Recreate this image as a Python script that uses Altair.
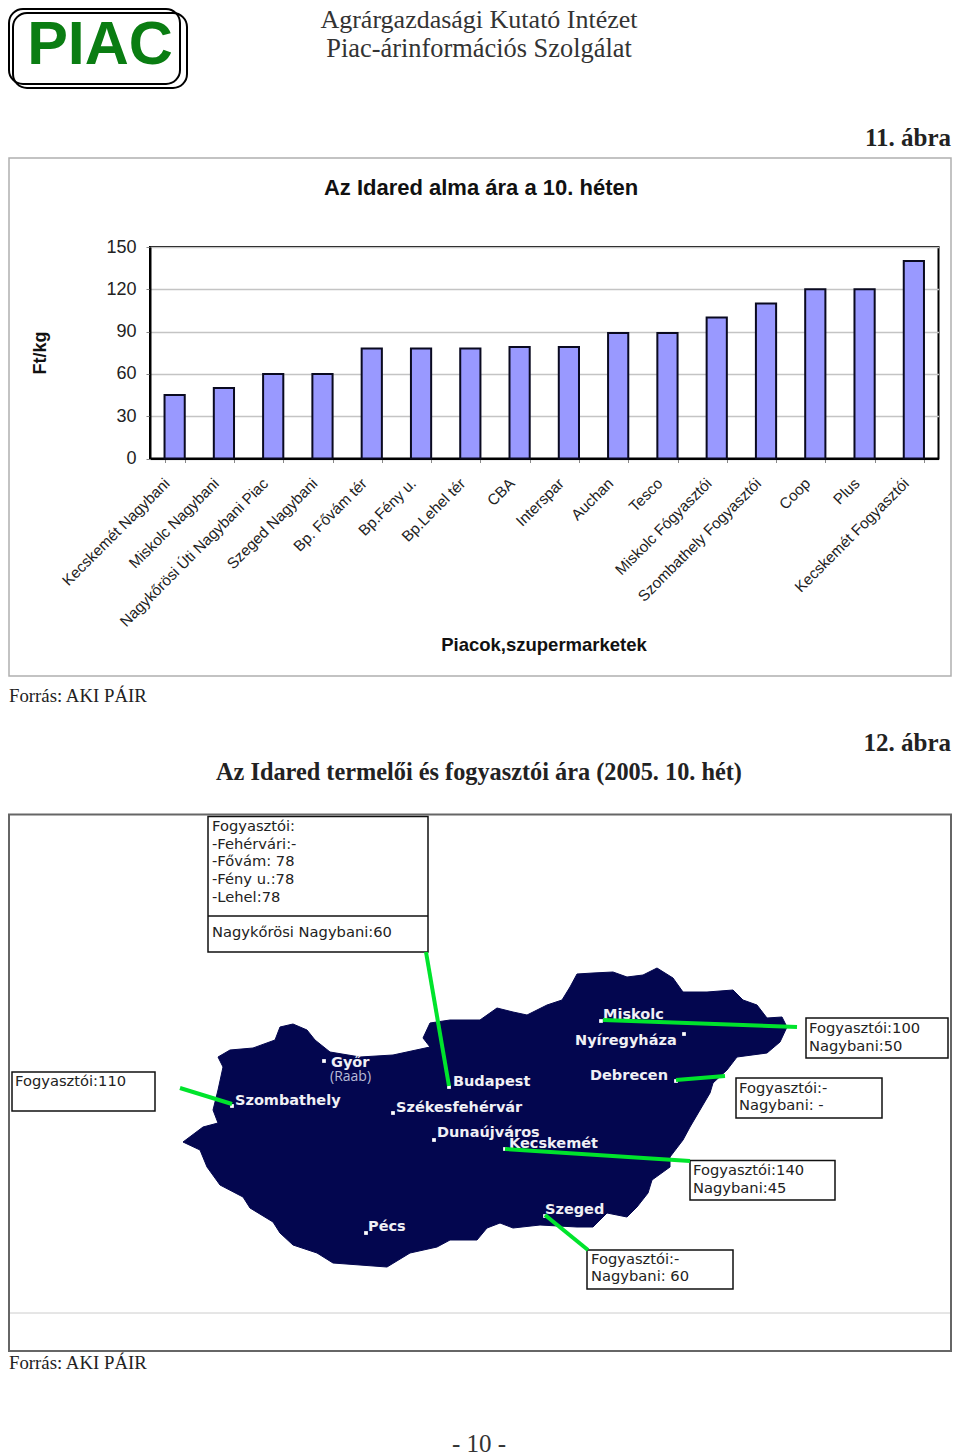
import altair as alt

OX, OY = 150, 247  # plot-area origin on the page
PW, PH = 788.5, 211.5

categories = ["Kecskemét Nagybani", "Miskolc Nagybani", "Nagykőrösi Úti Nagybani Piac", "Szeged Nagybani",
              "Bp. Fővám tér", "Bp.Fény u.", "Bp.Lehel tér", "CBA", "Interspar", "Auchan", "Tesco",
              "Miskolc Fógyasztói", "Szombathely Fogyasztói", "Coop", "Plus", "Kecskemét Fogyasztói"]
prices = [45, 50, 60, 60, 78, 78, 78, 79, 79, 89, 89, 100, 110, 120, 120, 140]

serif = "Liberation Serif"
sans = "Liberation Sans"
box_font = "DejaVu Sans"
city_font = "DejaVu Sans"

# text, x, y(baseline), size, bold, align, font, color
page_texts = [
    ("Agrárgazdasági Kutató Intézet", 479, 28, 26, False, "center", serif, "#333333"),
    ("Piac-árinformációs Szolgálat", 479, 57, 26.4, False, "center", serif, "#333333"),
    ("11. ábra", 951, 146, 25, True, "right", serif, "#222222"),
    ("Az Idared alma ára a 10. héten", 481, 195, 22, True, "center", sans, "#111111"),
    ("Piacok,szupermarketek", 544, 651, 18.5, True, "center", sans, "#111111"),
    ("Forrás: AKI PÁIR", 9, 702, 18.8, False, "left", serif, "#222222"),
    ("Az Idared termelői és fogyasztói ára (2005. 10. hét)", 479, 780, 24.3, True, "center", serif, "#222222"),
    ("12. ábra", 951, 751, 25, True, "right", serif, "#222222"),
    ("Forrás: AKI PÁIR", 9, 1369, 18.8, False, "left", serif, "#222222"),
    ("- 10 -", 479, 1452, 25, False, "center", serif, "#333333"),
    ("PIAC", 100, 64, 61, True, "center", sans, "#0a7d12"),
]

box_lines = [
    ("Fogyasztói:", 212, 831), ("-Fehérvári:-", 212, 849), ("-Fővám: 78", 212, 866), ("-Fény u.:78", 212, 884),
    ("-Lehel:78", 212, 902), ("Nagykőrösi Nagybani:60", 212, 937),
    ("Fogyasztói:110", 15, 1086),
    ("Fogyasztói:100", 809, 1033), ("Nagybani:50", 809, 1051),
    ("Fogyasztói:-", 739, 1093), ("Nagybani: -", 739, 1110),
    ("Fogyasztói:140", 693, 1175), ("Nagybani:45", 693, 1193),
    ("Fogyasztói:-", 591, 1264), ("Nagybani: 60", 591, 1281),
]

city_labels = [
    ("Miskolc", 603, 1019), ("Nyíregyháza", 575, 1045), ("Debrecen", 590, 1080), ("Budapest", 453, 1086),
    ("Székesfehérvár", 396, 1112), ("Dunaújváros", 437, 1137), ("Kecskemét", 509, 1148), ("Szeged", 545, 1214),
    ("Pécs", 368, 1231), ("Győr", 331, 1067), ("Szombathely", 235, 1105),
]
city_dots = [(324, 1061), (232, 1106), (449, 1087), (393, 1113), (434, 1140), (601, 1021),
             (684, 1034), (676, 1081), (505, 1149), (545, 1216), (366, 1233)]

boxes = [(208, 816.5, 428, 952), (12, 1072, 155, 1111), (806, 1018, 948, 1058),
         (736, 1078, 882, 1118), (690, 1160.5, 835, 1200), (587, 1250, 733, 1289)]
green_links = [(426, 952, 449, 1086), (180, 1088, 232, 1104), (603, 1020, 797, 1027),
               (676, 1080, 725, 1076), (505, 1149, 690, 1161), (545, 1215, 588, 1250)]

country_outline = [
    (218, 1057), (230, 1050), (253, 1048), (275, 1040), (280, 1027), (293, 1024), (307, 1030), (315, 1040),
    (330, 1052), (360, 1057), (393, 1055), (430, 1047), (423, 1038), (430, 1023), (450, 1020), (480, 1020),
    (497, 1008), (513, 1012), (527, 1015), (547, 1005), (562, 1000), (570, 987), (577, 974), (593, 973),
    (613, 972), (627, 977), (643, 975), (657, 968), (673, 978), (683, 992), (707, 992), (733, 990),
    (743, 1000), (757, 1005), (767, 1018), (782, 1017), (787, 1027), (780, 1042), (767, 1053), (737, 1057),
    (727, 1070), (713, 1083), (710, 1093), (700, 1110), (690, 1127), (683, 1140), (670, 1157), (670, 1167),
    (652, 1180), (648, 1193), (637, 1207), (627, 1217), (607, 1213), (593, 1227), (577, 1227), (540, 1225),
    (513, 1228), (500, 1223), (487, 1228), (477, 1240), (450, 1240), (437, 1247), (410, 1253), (387, 1267),
    (360, 1265), (333, 1263), (317, 1253), (293, 1245), (280, 1233), (273, 1222), (250, 1208), (243, 1197),
    (220, 1185), (207, 1167), (200, 1150), (183, 1142), (203, 1127), (218, 1123), (213, 1110), (218, 1090),
    (223, 1067),
]

ONE = alt.Data(values=[{"k": 1}])


def px(x):
    return alt.value(x - OX)


def py(y):
    return alt.value(y - OY)


def text(t, x, y, size, bold=False, align="left", font=sans, color="#222222", angle=None, baseline="alphabetic"):
    kw = dict(text=t, fontSize=size, align=align, font=font, color=color, baseline=baseline,
              fontWeight="bold" if bold else "normal")
    if angle is not None:
        kw["angle"] = angle
    return alt.Chart(ONE).mark_text(**kw).encode(x=px(x), y=py(y))


def frame(x1, y1, x2, y2, stroke, width, radius=0, fill="transparent"):
    return alt.Chart(ONE).mark_rect(stroke=stroke, strokeWidth=width, fill=fill, cornerRadius=radius).encode(
        x=px(x1), x2=px(x2), y=py(y1), y2=py(y2))


def rule(x1, y1, x2, y2, color, width):
    return alt.Chart(ONE).mark_rule(color=color, strokeWidth=width).encode(
        x=px(x1), x2=px(x2), y=py(y1), y2=py(y2))


layers = []
# logo (kept inside the page's 8px margin)
layers += [frame(9, 9, 180, 84, "#000000", 2, 14), frame(13, 13, 187, 88, "#000000", 2, 14)]
# frames
layers += [frame(9, 158, 951, 676, "#b0b0b0", 1.5), frame(9, 814.5, 951, 1351, "#666666", 2),
           rule(10, 1313, 950, 1313, "#cccccc", 1)]

# bar chart
bars = alt.Chart(alt.Data(values=[{"c": c, "v": v} for c, v in zip(categories, prices)])).mark_bar(
    fill="#9999ff", stroke="#0a0a20", strokeWidth=2
).encode(
    x=alt.X("c:N", sort=None, title=None,
            scale=alt.Scale(paddingInner=0.59, paddingOuter=0.295),
            axis=alt.Axis(labelAngle=-45, labelAlign="right", labelBaseline="middle", labelFontSize=15.3,
                          labelFont=sans, labelColor="#222222", labelPadding=18, labelOffset=-8, labelLimit=400,
                          tickBand="extent", tickSize=4, tickColor="#888888", domainColor="#000000",
                          domainWidth=2, labelOverlap=False)),
    y=alt.Y("v:Q", title=None, scale=alt.Scale(domain=[0, 150], nice=False),
            axis=alt.Axis(values=[0, 30, 60, 90, 120, 150], labelFontSize=18, labelFont=sans,
                          labelColor="#222222", labelPadding=10, tickSize=4, tickColor="#888888",
                          domainColor="#000000", domainWidth=2, grid=True, gridColor="#c4c4c4", gridWidth=1.5)),
)
layers.append(bars)
layers.append(text("Ft/kg", 46, 353, 18, True, "center", sans, "#111111", angle=270))

# map: the outline as a custom symbol drawn at scale 1 (symbol size 4)
outline_path = "M" + " L".join(f"{x - OX},{y - OY}" for x, y in country_outline) + " Z"
layers.append(
    alt.Chart(ONE).mark_point(shape=outline_path, size=4, filled=True, fill="#03064f", opacity=1,
                              stroke="#03064f", strokeWidth=1).encode(x=alt.value(0), y=alt.value(0))
)

for b in boxes:
    layers.append(frame(*b, "#111111", 1.5, fill="#ffffff"))
layers.append(rule(208, 916, 428, 916, "#111111", 1.5))

for t, x, y in city_labels:
    layers.append(text(t, x, y, 14.5, True, "left", city_font, "#f0f0f5"))
layers.append(text("(Raab)", 330, 1081, 14, False, "left", "Open Sans", "#b8bcd8"))
for x, y in city_dots:
    layers.append(alt.Chart(ONE).mark_square(size=14, color="#ffffff", opacity=1).encode(x=px(x), y=py(y)))
for g in green_links:
    layers.append(rule(*g, "#00e42c", 4))

for t, x, y in box_lines:
    layers.append(text(t, x, y, 14.7, False, "left", box_font, "#222222"))
for t, x, y, s, b, a, f, c in page_texts:
    layers.append(text(t, x, y, s, b, a, f, c))

PAD_L, PAD_T = OX - 8, OY - 8
chart = alt.layer(*layers).resolve_scale(x="independent", y="independent").properties(
    width=PW, height=PH,
    autosize=alt.AutoSizeParams(type="none"),
    padding={"left": PAD_L, "top": PAD_T, "right": 952 - OX - PW, "bottom": 1445 - OY - PH + 8},
    background="#ffffff",
).configure_view(stroke="#000000", strokeWidth=2)

chart.save("out.html", embed_options={"renderer": "svg", "actions": False})
